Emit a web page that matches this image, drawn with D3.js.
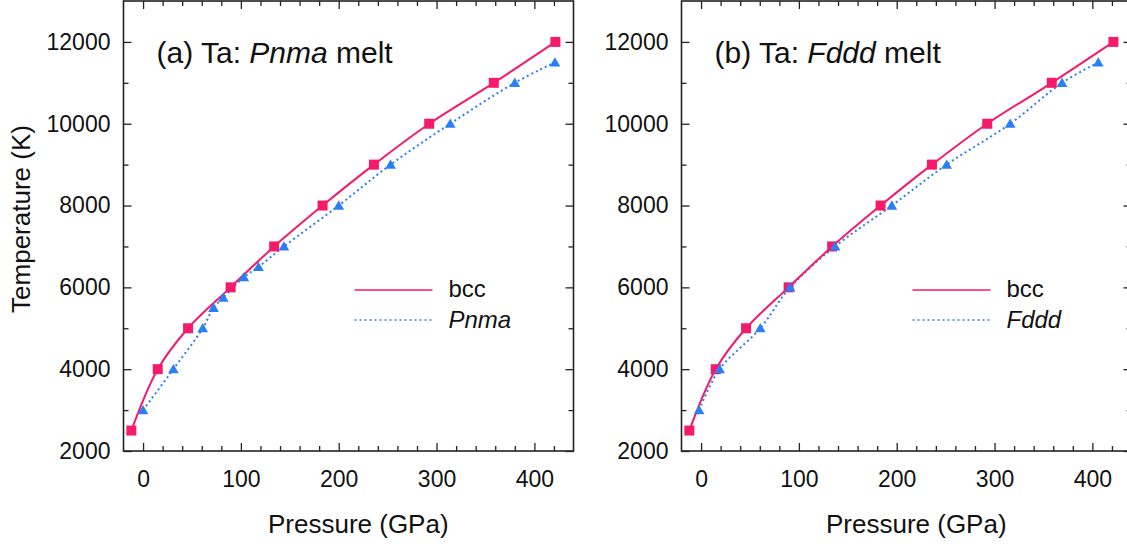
<!DOCTYPE html>
<html>
<head>
<meta charset="utf-8">
<script src="https://cdn.jsdelivr.net/npm/d3@7"></script>
<style>
  body { margin: 0; background: #fff; }
  text { font-family: "Liberation Sans", Arial, sans-serif; fill: #111; }
</style>
</head>
<body>
<svg id="chart" width="1127" height="546"></svg>
<script>
// melting curves, pressure (GPa) vs temperature (K)
const bccP = [-12, 15, 46, 89.5, 134, 183.5, 236, 292.5, 358.5, 421.5];
const bccT = [2500, 4000, 5000, 6000, 7000, 8000, 9000, 10000, 11000, 12000];
const pnmaP = [0, 31, 61, 72, 82, 103, 118, 144, 200, 253, 314, 380, 421];
const pnmaT = [3000, 4000, 5000, 5500, 5750, 6250, 6500, 7000, 8000, 9000, 10000, 11000, 11500];
const fdddP = [-2, 19, 60.5, 91, 137, 195, 251, 316, 369, 406];
const fdddT = [3000, 4000, 5000, 6000, 7000, 8000, 9000, 10000, 11000, 11500];

const xMajor = [0, 100, 200, 300, 400];
const yMajor = [2000, 4000, 6000, 8000, 10000, 12000];

const pink = "#f51a6a";
const blue = "#2b7ff5";

const svg = d3.select("#chart");
svg.append("rect").attr("width", 1127).attr("height", 546).attr("fill", "#fff");

const plotTop = 1, plotBottom = 451, plotW = 450;

function drawPanel(left, label, phase, phP, phT) {
  const x = d3.scaleLinear().domain([-20, 440]).range([left, left + plotW]);
  const y = d3.scaleLinear().domain([2000, 13000]).range([plotBottom, plotTop]);
  const g = svg.append("g");

  const xMinor = d3.range(20, 440, 20).filter(v => v % 100 !== 0);
  const yMinor = d3.range(3000, 13000, 2000);

  // ticks on all four sides, pointing inward
  g.append("g").attr("transform", `translate(0,${plotBottom})`)
    .call(d3.axisBottom(x).tickValues(xMajor).tickSize(-8).tickPadding(20))
    .call(a => a.select(".domain").remove());
  g.append("g").attr("transform", `translate(0,${plotBottom})`)
    .call(d3.axisBottom(x).tickValues(xMinor).tickSize(-5).tickFormat(""))
    .call(a => a.select(".domain").remove());
  g.append("g").attr("transform", `translate(0,${plotTop})`)
    .call(d3.axisTop(x).tickValues(xMajor).tickSize(-8).tickFormat(""))
    .call(a => a.select(".domain").remove());
  g.append("g").attr("transform", `translate(0,${plotTop})`)
    .call(d3.axisTop(x).tickValues(xMinor).tickSize(-5).tickFormat(""))
    .call(a => a.select(".domain").remove());
  g.append("g").attr("transform", `translate(${left},0)`)
    .call(d3.axisLeft(y).tickValues(yMajor).tickSize(-8).tickPadding(13).tickFormat(d3.format("d")))
    .call(a => a.select(".domain").remove());
  g.append("g").attr("transform", `translate(${left},0)`)
    .call(d3.axisLeft(y).tickValues(yMinor).tickSize(-5).tickFormat(""))
    .call(a => a.select(".domain").remove());
  g.append("g").attr("transform", `translate(${left + plotW},0)`)
    .call(d3.axisRight(y).tickValues(yMajor).tickSize(-8).tickFormat(""))
    .call(a => a.select(".domain").remove());
  g.append("g").attr("transform", `translate(${left + plotW},0)`)
    .call(d3.axisRight(y).tickValues(yMinor).tickSize(-5).tickFormat(""))
    .call(a => a.select(".domain").remove());

  g.selectAll(".tick line").attr("stroke", "#222").attr("stroke-width", 1.3);
  g.selectAll(".tick text").attr("font-size", 23).attr("font-family", "Liberation Sans, Arial, sans-serif").attr("fill", "#111");

  g.append("rect")
    .attr("x", left).attr("y", plotTop)
    .attr("width", plotW).attr("height", plotBottom - plotTop)
    .attr("fill", "none").attr("stroke", "#222").attr("stroke-width", 1.6);

  // curves
  const line = d3.line().curve(d3.curveCatmullRom.alpha(0.5))
    .x(d => x(d[0])).y(d => y(d[1]));
  const bcc = bccP.map((p, i) => [p, bccT[i]]);
  const ph = phP.map((p, i) => [p, phT[i]]);

  g.append("path").datum(ph).attr("d", line)
    .attr("fill", "none").attr("stroke", blue).attr("stroke-width", 2)
    .attr("stroke-dasharray", "2,3");
  g.append("path").datum(bcc).attr("d", line)
    .attr("fill", "none").attr("stroke", pink).attr("stroke-width", 2);

  g.selectAll(".sq").data(bcc).join("rect")
    .attr("x", d => x(d[0]) - 5).attr("y", d => y(d[1]) - 5)
    .attr("width", 10).attr("height", 10).attr("fill", pink);
  const tri = d3.symbol().type(d3.symbolTriangle).size(50);
  g.selectAll(".tri").data(ph).join("path")
    .attr("d", tri)
    .attr("transform", d => `translate(${x(d[0])},${y(d[1]) + 1})`)
    .attr("fill", blue);

  // panel title
  const t = g.append("text").attr("x", left + 33).attr("y", 63).attr("font-size", 30);
  t.append("tspan").text(label + " Ta: ");
  t.append("tspan").attr("font-style", "italic").text(phase);
  t.append("tspan").text(" melt");

  // legend
  const lx = left + 231;
  g.append("line").attr("x1", lx).attr("x2", lx + 78).attr("y1", 290).attr("y2", 290)
    .attr("stroke", pink).attr("stroke-width", 1.6);
  g.append("line").attr("x1", lx).attr("x2", lx + 78).attr("y1", 320).attr("y2", 320)
    .attr("stroke", blue).attr("stroke-width", 1.6).attr("stroke-dasharray", "2,3");
  g.append("text").attr("x", lx + 94).attr("y", 297).attr("font-size", 24).text("bcc");
  g.append("text").attr("x", lx + 94).attr("y", 328).attr("font-size", 24)
    .attr("font-style", "italic").text(phase);

  // x title
  g.append("text").attr("x", x(220)).attr("y", 533).attr("font-size", 26)
    .attr("text-anchor", "middle").text("Pressure (GPa)");
  return y;
}

const yL = drawPanel(123.5, "(a)", "Pnma", pnmaP, pnmaT);
drawPanel(681.5, "(b)", "Fddd", fdddP, fdddT);

svg.append("text")
  .attr("transform", `translate(30,${yL(7500) - 7}) rotate(-90)`)
  .attr("text-anchor", "middle").attr("font-size", 26)
  .text("Temperature (K)");
</script>
</body>
</html>
